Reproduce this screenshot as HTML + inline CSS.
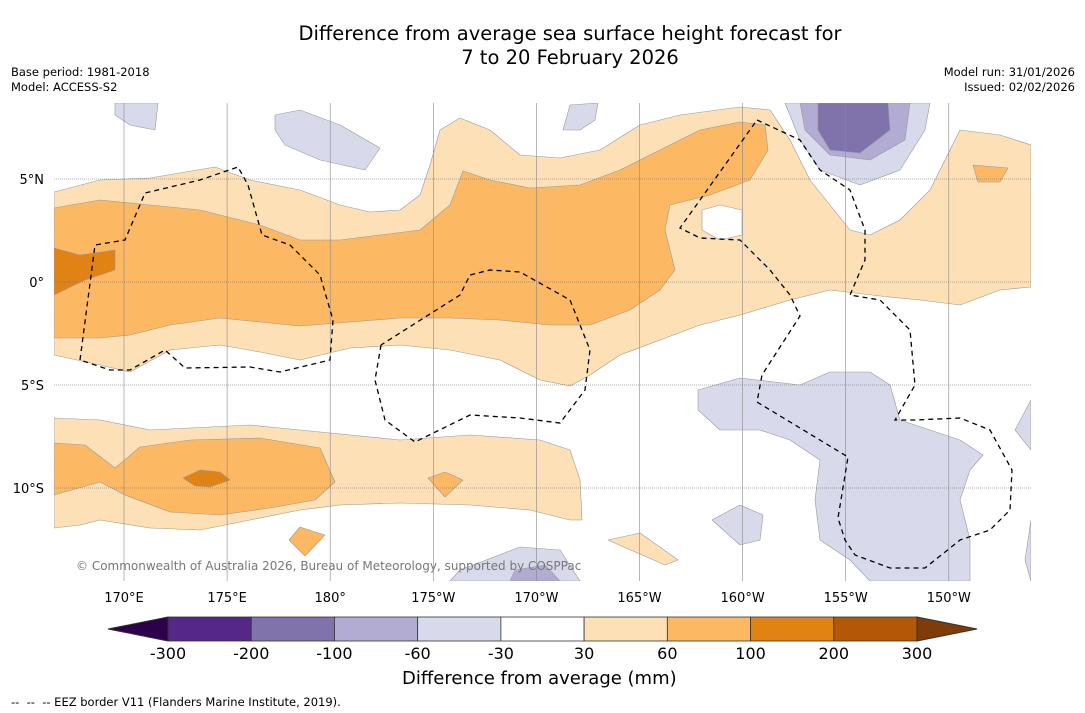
<!DOCTYPE html>
<html><head><meta charset="utf-8">
<style>
body{margin:0;background:#fff;font-family:"DejaVu Sans","Liberation Sans",sans-serif;}
#wrap{position:relative;width:1085px;height:713px;overflow:hidden;background:#fff}
.t{position:absolute;white-space:nowrap;color:#000}
</style></head>
<body>
<div id="wrap">
<div class="t" style="left:0;width:1140px;top:22px;text-align:center;font-size:19.5px;line-height:24px">Difference from average sea surface height forecast for<br>7 to 20 February 2026</div>
<div class="t" style="left:11px;top:65px;font-size:11.5px;line-height:15px">Base period: 1981-2018<br>Model: ACCESS-S2</div>
<div class="t" style="right:10px;top:65px;font-size:11.5px;line-height:15px;text-align:right">Model run: 31/01/2026<br>Issued: 02/02/2026</div>
<div class="t" style="left:402px;top:668px;font-size:18px">Difference from average (mm)</div>
<div class="t" style="left:11px;top:695px;font-size:11.5px">-- &nbsp;-- &nbsp;-- EEZ border V11 (Flanders Marine Institute, 2019).</div>
<svg id="svg" width="1085" height="713" style="position:absolute;left:0;top:0"></svg>
</div>
<script>
const levels=["-300","-200","-100","-60","-30","30","60","100","200","300"];
const colors=["#542788","#8073ac","#b2abd2","#d8daeb","#ffffff","#fee0b6","#fdb863","#e08214","#b35806"];
const endColors=["#2d004b","#7f3b08"];
const lonTicks=[170,175,180,185,190,195,200,205,210];
const lonLabels=["170°E","175°E","180°","175°W","170°W","165°W","160°W","155°W","150°W"];
const latTicks=[5,0,-5,-10];
const latLabels=["5°N","0°","5°S","10°S"];
const regionsPx=[
 {c:5,n:"light-orange-north",p:[[54,192],[100,180],[150,178],[215,167],[250,180],[300,190],[340,205],[370,212],[400,210],[420,195],[430,165],[440,130],[460,118],[490,130],[520,155],[560,158],[600,150],[640,125],[680,115],[740,107],[770,110],[790,140],[810,180],[850,230],[870,235],[900,220],[930,190],[960,130],[1000,135],[1031,145],[1031,287],[1000,290],[960,305],[920,300],[880,296],[830,290],[790,300],[740,315],[700,325],[660,340],[620,355],[590,375],[570,386],[540,380],[500,360],[450,350],[400,345],[350,348],[300,360],[260,352],[220,345],[170,350],[130,372],[100,365],[54,355]]},
 {c:4,n:"white-hole",p:[[702,210],[720,205],[742,210],[742,235],[720,240],[702,230]]},
 {c:6,n:"medium-orange-north",p:[[54,208],[100,200],[150,205],[200,210],[260,225],[300,240],[340,240],[380,235],[420,230],[450,205],[463,171],[490,180],[530,188],[580,185],[620,170],[660,150],[700,130],[740,122],[765,125],[768,150],[750,180],[710,195],[670,205],[665,230],[675,270],[660,290],[630,310],[590,325],[550,325],[500,320],[450,318],[400,318],[350,322],[300,326],[260,322],[220,318],[170,325],[130,335],[100,338],[54,338]]},
 {c:7,n:"dark-orange-west",p:[[54,248],[80,255],[115,250],[115,270],[85,280],[54,295]]},
 {c:6,n:"medium-orange-east",p:[[973,165],[1008,168],[1000,182],[978,182]]},
 {c:3,n:"light-purple-ne",p:[[785,103],[930,103],[925,130],[900,170],[860,185],[820,170],[800,140]]},
 {c:2,n:"medium-purple-ne",p:[[800,103],[910,103],[905,140],[870,160],[830,155],[805,130]]},
 {c:1,n:"dark-purple-ne",p:[[818,103],[888,103],[890,130],[860,153],[830,150],[818,130]]},
 {c:3,n:"purple-blob-1",p:[[115,103],[158,103],[155,130],[130,125],[115,115]]},
 {c:3,n:"purple-blob-2",p:[[275,115],[300,110],[340,125],[380,148],[365,170],[320,160],[285,145],[275,130]]},
 {c:3,n:"purple-blob-3",p:[[563,130],[570,105],[598,103],[595,120],[580,130]]},
 {c:3,n:"purple-south",p:[[698,390],[740,378],[800,385],[830,372],[870,372],[890,385],[900,420],[930,430],[960,440],[983,455],[970,470],[960,500],[970,540],[970,581],[870,581],[850,560],[820,540],[815,500],[820,460],[790,440],[760,430],[720,430],[698,410]]},
 {c:3,n:"purple-edge-1",p:[[1031,400],[1015,430],[1031,450]]},
 {c:3,n:"purple-edge-2",p:[[1031,520],[1025,560],[1031,581]]},
 {c:3,n:"purple-blob-4",p:[[712,520],[740,505],[763,515],[760,540],[740,545]]},
 {c:3,n:"purple-bottom",p:[[460,570],[520,547],[560,550],[580,581],[450,581]]},
 {c:2,n:"purple-bottom-inner",p:[[510,581],[515,570],[545,565],[560,581]]},
 {c:5,n:"light-orange-south",p:[[54,418],[100,420],[150,430],[250,425],[300,430],[400,440],[470,435],[540,440],[570,450],[580,480],[582,520],[570,520],[530,510],[470,505],[400,503],[340,505],[300,510],[250,520],[200,530],[150,528],[100,520],[80,525],[54,528]]},
 {c:6,n:"medium-orange-south",p:[[54,443],[85,445],[115,468],[140,447],[190,440],[260,438],[320,448],[335,482],[315,500],[270,508],[220,515],[170,512],[125,495],[100,482],[54,495]]},
 {c:7,n:"dark-orange-south",p:[[183,478],[200,470],[220,472],[230,480],[210,487],[195,486]]},
 {c:6,n:"medium-orange-small-1",p:[[428,478],[445,472],[463,480],[445,497]]},
 {c:6,n:"medium-orange-small-2",p:[[289,540],[300,527],[325,535],[305,556]]},
 {c:5,n:"light-orange-small",p:[[608,540],[640,533],[678,560],[665,565]]}
];
const eezPx=[
 [[80,360],[95,245],[125,240],[145,193],[200,180],[238,167],[248,185],[262,235],[290,245],[320,275],[333,320],[330,360],[280,372],[250,367],[185,368],[165,350],[130,370],[110,370],[80,360]],
 [[381,345],[375,380],[385,420],[415,442],[470,415],[520,418],[560,423],[585,390],[590,350],[570,300],[520,272],[490,270],[470,275],[460,295],[381,345]],
 [[757,120],[800,140],[820,170],[850,190],[865,230],[865,260],[850,295],[880,300],[910,330],[915,385],[895,420],[915,420],[960,418],[990,430],[1012,470],[1010,510],[990,530],[960,540],[925,568],[890,568],[855,555],[845,540],[838,518],[848,457],[757,402],[762,375],[800,316],[790,295],[770,270],[740,240],[700,238],[680,228],[700,200],[757,120]]
];
const X0=54,X1=1031,Y0=103,Y1=581;
const xs=lon=>124+(lon-170)*20.62;
const ys=lat=>282-lat*20.6;
const toLon=x=>170+(x-124)/20.62, toLat=y=>(282-y)/20.6;
const regions=regionsPx.map(r=>({c:r.c,n:r.n,p:r.p.map(([x,y])=>[toLon(x),toLat(y)])}));
const eez=eezPx.map(l=>l.map(([x,y])=>[toLon(x),toLat(y)]));
const NS="http://www.w3.org/2000/svg";
const svg=document.getElementById('svg');
function mk(t,a,parent){const e=document.createElementNS(NS,t);for(const k in a)e.setAttribute(k,a[k]);(parent||svg).appendChild(e);return e;}
const cp=mk('clipPath',{id:'mapclip'});mk('rect',{x:X0,y:Y0,width:X1-X0,height:Y1-Y0},cp);
const g=mk('g',{'clip-path':'url(#mapclip)'});


regions.forEach(r=>{
 const el=mk('polygon',{points:r.p.map(([lo,la])=>xs(lo).toFixed(1)+','+ys(la).toFixed(1)).join(' '),fill:colors[r.c],stroke:'#999',"stroke-width":0.6,'stroke-linejoin':'round'},g);
 
 
});
lonTicks.forEach((lo,i)=>{
 const l=mk('line',{x1:xs(lo),x2:xs(lo),y1:Y0,y2:Y1,stroke:'#888','stroke-width':0.6},g);
 
 
 const t=mk('text',{x:xs(lo),y:602,'text-anchor':'middle','font-size':13,'font-family':'DejaVu Sans, sans-serif'});
 t.textContent=lonLabels[i];
 
 
});
latTicks.forEach((la,i)=>{
 const l=mk('line',{x1:X0,x2:X1,y1:ys(la),y2:ys(la),stroke:'#666','stroke-width':0.6,'stroke-dasharray':'1,1'},g);
 
 
 const t=mk('text',{x:44,y:ys(la)+5,'text-anchor':'end','font-size':13,'font-family':'DejaVu Sans, sans-serif'});
 t.textContent=latLabels[i];
 
 
});
eez.forEach(l=>{
 const e=mk('polyline',{points:l.map(([lo,la])=>xs(lo).toFixed(1)+','+ys(la).toFixed(1)).join(' '),fill:'none',stroke:'#000','stroke-width':1.3,'stroke-dasharray':'5,4'},g);
 
 
});
const cr=mk('text',{x:76,y:570,'font-size':12,fill:'#777','font-family':'DejaVu Sans, sans-serif'});
cr.textContent='© Commonwealth of Australia 2026, Bureau of Meteorology, supported by COSPPac';


const CB0=168,CBW=749/colors.length,CBY=617,CBH=24;
colors.forEach((c,i)=>{
 const r=mk('rect',{x:CB0+i*CBW,y:CBY,width:CBW,height:CBH,fill:c,stroke:'#333','stroke-width':0.8});
 
 
});
const tl=mk('polygon',{points:`${CB0},${CBY} ${CB0-60},${CBY+CBH/2} ${CB0},${CBY+CBH}`,fill:endColors[0],stroke:'#333'});


const tr=mk('polygon',{points:`${CB0+749},${CBY} ${CB0+809},${CBY+CBH/2} ${CB0+749},${CBY+CBH}`,fill:endColors[1],stroke:'#333'});


levels.forEach((v,i)=>{
 const t=mk('text',{x:CB0+i*CBW,y:659,'text-anchor':'middle','font-size':16,'font-family':'DejaVu Sans, sans-serif'});
 t.textContent=v;
 
 
});
</script>
</body></html>
